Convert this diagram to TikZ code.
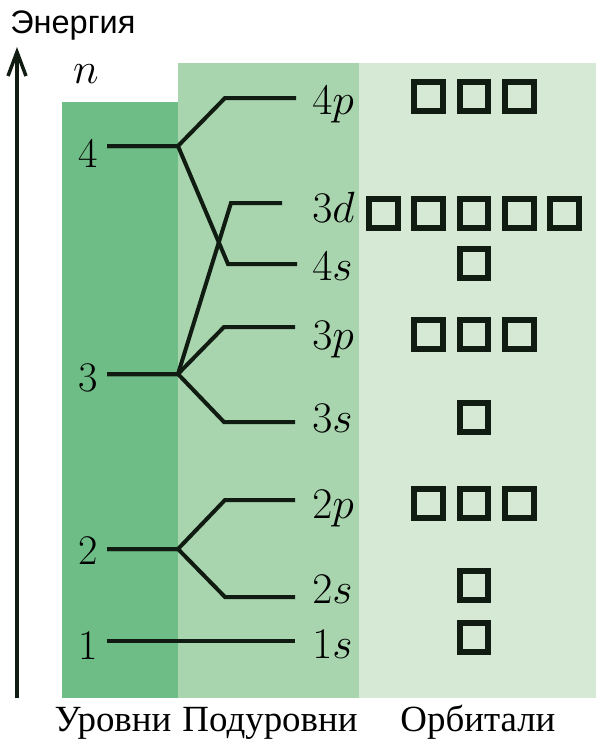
\documentclass[tikz,border=0pt]{standalone}
\usepackage{fontspec}
\newfontfamily\cyrserif{Liberation Serif}
\newfontfamily\cyrsans{Liberation Sans}
\usetikzlibrary{arrows.meta}
\definecolor{levelgreen}{RGB}{110,188,134}
\definecolor{subgreen}{RGB}{168,212,174}
\definecolor{orbgreen}{RGB}{213,233,213}
\definecolor{inkgreen}{RGB}{16,28,18}
\tikzset{
    branch/.style={draw=inkgreen, line width=0.08cm},
    orb/.style={draw=inkgreen, line width=0.12cm, minimum size=0.58cm, inner sep=0pt},
    bignum/.style={anchor=base, inner sep=0pt, font=\fontsize{24}{28}\selectfont},
    sublbl/.style={anchor=base west, inner sep=0pt, font=\fontsize{24}{28}\selectfont},
    caption/.style={anchor=base, inner sep=0pt, font=\cyrserif\fontsize{21}{25}\selectfont}
}

\begin{document}
\begin{tikzpicture}[x=0.02cm, y=-0.02cm]
        \useasboundingbox (0,0) rectangle (604,745);

        % Columns
        \fill[levelgreen] (62,102) rectangle (178,698);
        \fill[subgreen] (178,63) rectangle (359,698);
        \fill[orbgreen] (359,63) rectangle (596,698);

        % Energy axis
        \coordinate (axbot) at (17,698);
        \coordinate (axtop) at (17,47);
        \draw[inkgreen, line width=0.07cm, -{Straight Barb[length=0.48cm,width=0.36cm]}] (axbot) -- (axtop);
        \node[anchor=base west, inner sep=0pt, font=\cyrsans\fontsize{18.5}{22}\selectfont] (energy) at (10,33) {Энергия};
        \node[bignum] (nsym) at (86,83) {$n$};

        % Levels
        \foreach \n/\y/\b in {4/146/167, 3/374/391, 2/549/564, 1/641/659} {
            \node[bignum] (lvl\n) at (88,\b) {\n};
            \coordinate (start\n) at (107,\y);
            \coordinate (fork\n) at (178,\y);
        }

        % Sublevels
        \foreach \s/\f/\cx/\cy/\ex/\by in {4p/4/225/98/296/114, 4s/4/228/264/297/280, 3d/3/231/203/282/222,
                3p/3/224/327/295/349, 3s/3/224/422/295/432, 2p/2/225/500/295/518, 2s/2/225/597/295/603} {
            \coordinate (bend\s) at (\cx,\cy);
            \coordinate (end\s) at (\ex,\cy);
            \draw[branch] (start\f) -- (fork\f) -- (bend\s) -- (end\s);
            \node[sublbl] (lbl\s) at (312,\by) {$\s$};
        }
        \coordinate (end1s) at (295,641);
        \draw[branch] (start1) -- (end1s);
        \node[sublbl] (lbl1s) at (312,658) {$1s$};

        % Orbitals
        \foreach \s/\y/\k in {4p/96/3, 3d/213/5, 4s/263/1, 3p/334/3, 3s/417/1, 2p/503/3, 2s/585/1, 1s/637/1} {
            \foreach \i in {1,...,\k} {
                \node[orb] (orb\s-\i) at ({474+45.4*(\i-(\k+1)/2)},\y) {};
            }
        }

        % Captions
        \node[caption] (capLevels) at (113,731) {Уровни};
        \node[caption] (capSub) at (270,731) {Подуровни};
        \node[caption] (capOrb) at (478,731) {Орбитали};
\end{tikzpicture}
\end{document}
